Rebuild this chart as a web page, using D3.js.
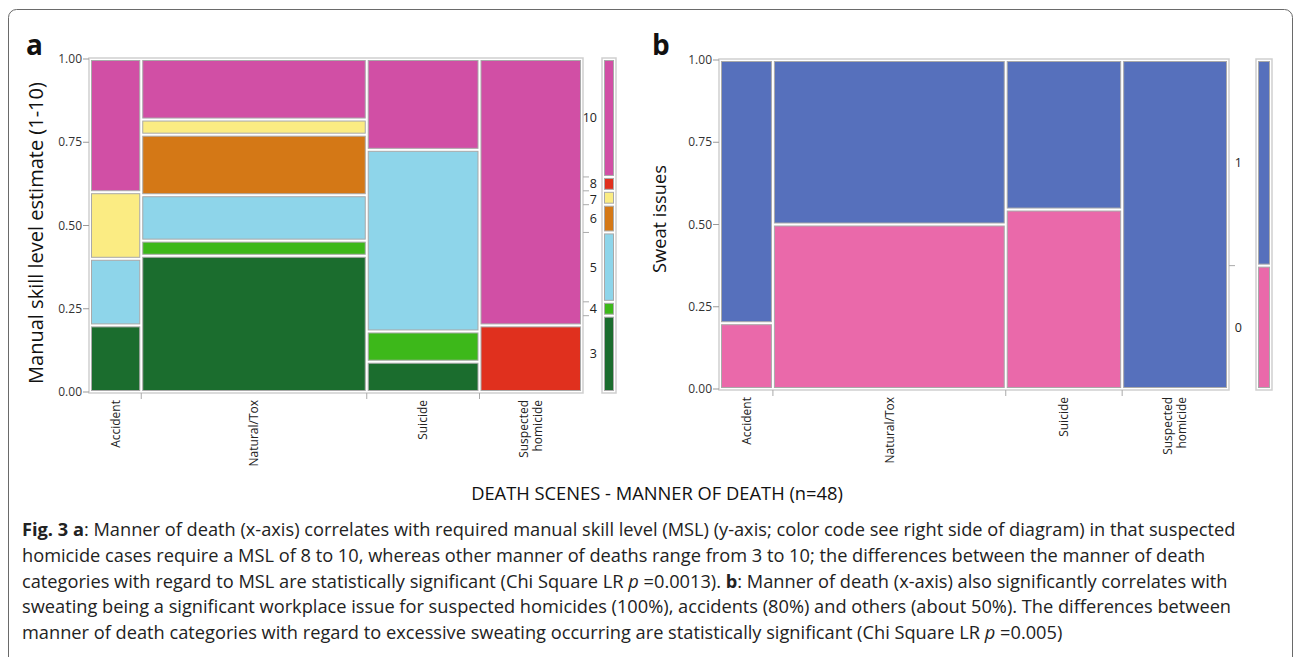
<!DOCTYPE html>
<html>
<head>
<meta charset="utf-8">
<script src="https://cdn.jsdelivr.net/npm/d3@7"></script>
<style>
  html, body { margin: 0; padding: 0; background: #fff; }
  svg { display: block; font-family: "Open Sans", sans-serif; }
</style>
</head>
<body>
<svg id="fig" width="1294" height="657"></svg>
<script>
// ---- data ----
var mannerLabels = [["Accident"], ["Natural/Tox"], ["Suicide"], ["Suspected", "homicide"]];
var yTicks = [0, 0.25, 0.5, 0.75, 1];

// (a) manual skill level, counts per manner of death (levels bottom -> top)
var mslLevels = ["3", "4", "5", "6", "7", "8", "10"];
var mslColors = ["#1b6d2e", "#3db81a", "#8ed5ea", "#d47816", "#fbec83", "#e0301e", "#d14fa5"];
var mslAccident  = [1, 0, 1, 0, 1, 0, 2];
var mslNatural   = [9, 1, 3, 4, 1, 0, 4];
var mslSuicide   = [1, 1, 6, 0, 0, 0, 3];
var mslHomicide  = [0, 0, 0, 0, 0, 2, 8];

// (b) sweat issues (0 = no, 1 = yes)
var sweatLevels = ["0", "1"];
var sweatColors = ["#ea69aa", "#5670bc"];
var sweatAccident = [1, 4];
var sweatNatural  = [11, 11];
var sweatSuicide  = [6, 5];
var sweatHomicide = [0, 10];

var svg = d3.select("#fig");

// figure frame
svg.append("rect")
  .attr("x", 8.5).attr("y", 9.5)
  .attr("width", 1284).attr("height", 720)
  .attr("rx", 8)
  .attr("fill", "none")
  .attr("stroke", "#6a6a6a")
  .attr("stroke-width", 1);

function fit(sel, w) {
  var l = sel.node().getComputedTextLength();
  var fs = parseFloat(sel.attr("font-size"));
  sel.attr("font-size", fs * w / l);
}

var mosaic = function(opt) {
  var g = svg.append("g");
  var counts = opt.counts;
  var totals = counts.map(function(c) { return d3.sum(c); });
  var N = d3.sum(totals);
  var starts = [0].concat(Array.from(d3.cumsum(totals)));

  var x = d3.scaleLinear().domain([0, N]).range([opt.x0, opt.x1]);
  var y = d3.scaleLinear().domain([0, 1]).range([opt.yBot, opt.yTop]);

  // plot frame
  g.append("rect")
    .attr("x", opt.x0 - 1).attr("y", opt.yTop - 1)
    .attr("width", opt.x1 - opt.x0 + 2).attr("height", opt.yBot - opt.yTop + 2)
    .attr("fill", "none").attr("stroke", "#cfcfcf").attr("stroke-width", 1.5);

  // cells
  counts.forEach(function(col, i) {
    var acc = 0;
    col.forEach(function(n, j) {
      if (n > 0) {
        var f0 = acc / totals[i], f1 = (acc + n) / totals[i];
        g.append("rect")
          .attr("x", x(starts[i]) + 1.5)
          .attr("y", y(f1) + 1.5)
          .attr("width", x(starts[i + 1]) - x(starts[i]) - 3)
          .attr("height", y(f0) - y(f1) - 3)
          .attr("fill", opt.colors[j])
          .attr("stroke", "#a9a9a9")
          .attr("stroke-width", 1);
      }
      acc += n;
    });
  });

  // y axis
  var yAxis = g.append("g");
  yTicks.forEach(function(t) {
    yAxis.append("line")
      .attr("x1", opt.x0 - 7).attr("x2", opt.x0 - 1)
      .attr("y1", y(t)).attr("y2", y(t))
      .attr("stroke", "#999");
    yAxis.append("text")
      .attr("x", opt.x0 - 8).attr("y", y(t)).attr("dy", "0.35em")
      .attr("text-anchor", "end").attr("font-size", 12).attr("fill", "#333")
      .text(d3.format(".2f")(t));
  });

  // x ticks at inner boundaries + labels
  starts.slice(1, -1).forEach(function(s) {
    g.append("line")
      .attr("x1", x(s)).attr("x2", x(s))
      .attr("y1", opt.yBot + 1).attr("y2", opt.yBot + 7)
      .attr("stroke", "#aaa");
  });
  mannerLabels.forEach(function(lines, i) {
    var cx = (x(starts[i]) + x(starts[i + 1])) / 2;
    lines.forEach(function(l, k) {
      var off = (k - (lines.length - 1) / 2) * 14;
      g.append("text")
        .attr("transform", "translate(" + (cx + off) + "," + (opt.yBot + 8) + ") rotate(-90)")
        .attr("dy", "0.35em")
        .attr("text-anchor", "end").attr("font-size", 12).attr("fill", "#222")
        .text(l);
    });
  });

  // marginal distribution on the right
  var marg = opt.levels.map(function(l, j) { return d3.sum(counts, function(c) { return c[j]; }); });
  var mStarts = [0].concat(Array.from(d3.cumsum(marg)));
  var my = d3.scaleLinear().domain([0, N]).range([opt.yBot, opt.yTop]);

  mStarts.slice(1, -1).forEach(function(s, j) {
    if (marg[j + 1] === 0 && j + 1 < marg.length - 1) return;
    g.append("line")
      .attr("x1", opt.x1 + 1).attr("x2", opt.x1 + 7)
      .attr("y1", my(s)).attr("y2", my(s))
      .attr("stroke", "#aaa");
  });
  // level labels, top to bottom, kept at least 16px apart
  var labs = [];
  opt.levels.forEach(function(l, j) {
    if (marg[j] > 0) labs.push({ t: l, y: (my(mStarts[j]) + my(mStarts[j + 1])) / 2 });
  });
  labs.sort(function(a, b) { return a.y - b.y; });
  labs.forEach(function(d, k) {
    if (k > 0) d.y = Math.max(d.y, labs[k - 1].y + 16);
    g.append("text")
      .attr("x", opt.labelX).attr("y", d.y).attr("dy", "0.35em")
      .attr("text-anchor", "end").attr("font-size", 12.5).attr("fill", "#222")
      .text(d.t);
  });

  // legend bar
  g.append("rect")
    .attr("x", opt.barX - 1).attr("y", opt.yTop - 1)
    .attr("width", opt.barW + 2).attr("height", opt.yBot - opt.yTop + 2)
    .attr("fill", "none").attr("stroke", "#cfcfcf").attr("stroke-width", 1.5);
  opt.levels.forEach(function(l, j) {
    if (marg[j] === 0) return;
    g.append("rect")
      .attr("x", opt.barX + 1.5)
      .attr("y", my(mStarts[j + 1]) + 1.5)
      .attr("width", opt.barW - 3)
      .attr("height", my(mStarts[j]) - my(mStarts[j + 1]) - 3)
      .attr("fill", opt.colors[j])
      .attr("stroke", "#a9a9a9").attr("stroke-width", 1);
  });

  // y title
  var yt = g.append("text")
    .attr("transform", "translate(" + opt.titleX + "," + opt.titleY + ") rotate(-90)")
    .attr("text-anchor", "middle").attr("font-size", 18).attr("fill", "#111")
    .text(opt.title);
  fit(yt, opt.titleW);

  // panel letter
  g.append("text")
    .attr("x", opt.letterX).attr("y", 55)
    .attr("font-size", 28).attr("font-weight", "bold").attr("fill", "#111")
    .text(opt.letter);
};

mosaic({
  counts: [mslAccident, mslNatural, mslSuicide, mslHomicide],
  levels: mslLevels, colors: mslColors,
  x0: 90, x1: 582, yTop: 59, yBot: 392,
  labelX: 597, barX: 603, barW: 12,
  title: "Manual skill  level estimate (1-10)", titleX: 43, titleY: 233, titleW: 302,
  letter: "a", letterX: 26
});

mosaic({
  counts: [sweatAccident, sweatNatural, sweatSuicide, sweatHomicide],
  levels: sweatLevels, colors: sweatColors,
  x0: 720, x1: 1228, yTop: 60, yBot: 389,
  labelX: 1242, barX: 1257, barW: 14,
  title: "Sweat issues", titleX: 666, titleY: 219, titleW: 108,
  letter: "b", letterX: 652
});

// x title
var xt = svg.append("text")
  .attr("x", 657).attr("y", 500)
  .attr("text-anchor", "middle").attr("font-size", 17).attr("fill", "#111")
  .text("DEATH SCENES - MANNER OF DEATH (n=48)");
fit(xt, 372);

// caption
var captionLines = [
  [["Fig. 3 a", "b"], [": Manner of death (x-axis) correlates with required manual skill level (MSL) (y-axis; color code see right side of diagram) in that suspected", ""]],
  [["homicide cases require a MSL of 8 to 10, whereas other manner of deaths range from 3 to 10; the differences between the manner of death", ""]],
  [["categories with regard to MSL are statistically significant (Chi Square LR ", ""], ["p", "i"], [" =0.0013). ", ""], ["b", "b"], [": Manner of death (x-axis) also significantly correlates with", ""]],
  [["sweating being a significant workplace issue for suspected homicides (100%), accidents (80%) and others (about 50%). The differences between", ""]],
  [["manner of death categories with regard to excessive sweating occurring are statistically significant (Chi Square LR ", ""], ["p", "i"], [" =0.005)", ""]]
];

var capTexts = captionLines.map(function(parts, i) {
  var t = svg.append("text")
    .attr("x", 22).attr("y", 536 + i * 25.8)
    .attr("font-size", 17).attr("fill", "#222");
  parts.forEach(function(p) {
    var ts = t.append("tspan").text(p[0]);
    if (p[1] === "b") ts.attr("font-weight", "bold");
    if (p[1] === "i") ts.attr("font-style", "italic");
  });
  return t;
});
var scale = 1214 / capTexts[0].node().getComputedTextLength();
capTexts.forEach(function(t) { t.attr("font-size", 17 * scale); });
</script>
</body>
</html>
